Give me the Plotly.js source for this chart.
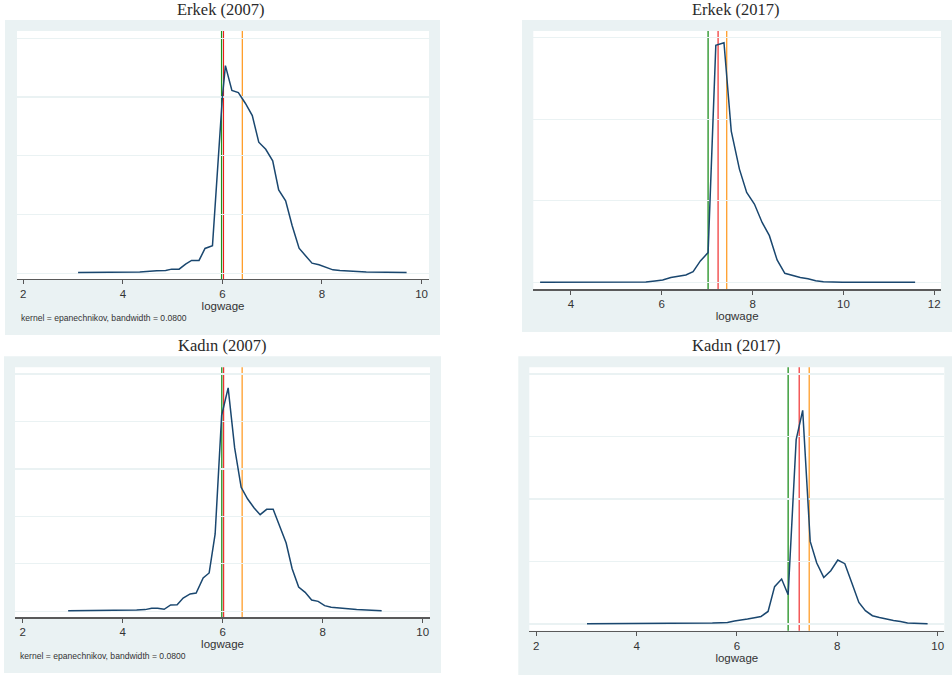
<!DOCTYPE html>
<html>
<head>
<meta charset="utf-8">
<script src="https://cdn.plot.ly/plotly-3.0.1.min.js"></script>
<style>html,body{margin:0;padding:0;background:#fff;}#chart{width:952px;height:676px;}</style>
</head>
<body>
<div id="chart"></div>
<script>
// ---- Data ----
const panelTitles = ["Erkek (2007)", "Erkek (2017)", "Kadın (2007)", "Kadın (2017)"];
const xAxisTitle = "logwage";
const noteText = "kernel = epanechnikov, bandwidth = 0.0800";

const erkek2007_x = [3.10, 3.50, 4.00, 4.34, 4.68, 4.86, 4.98, 5.13, 5.26, 5.38, 5.53, 5.65, 5.80, 5.92, 6.00, 6.06, 6.19, 6.32, 6.46, 6.60, 6.73, 6.87, 7.01, 7.13, 7.27, 7.40, 7.54, 7.67, 7.80, 7.94, 8.08, 8.22, 8.36, 8.63, 8.89, 9.30, 9.70];
const erkek2007_y = [0.006, 0.006, 0.007, 0.009, 0.020, 0.023, 0.034, 0.034, 0.077, 0.108, 0.108, 0.210, 0.233, 1.021, 1.504, 1.767, 1.555, 1.538, 1.447, 1.342, 1.115, 1.055, 0.956, 0.709, 0.616, 0.406, 0.213, 0.148, 0.085, 0.071, 0.048, 0.028, 0.023, 0.014, 0.009, 0.007, 0.006];

const erkek2017_x = [3.32, 4.00, 5.00, 5.65, 5.85, 6.02, 6.20, 6.37, 6.53, 6.69, 6.85, 7.02, 7.19, 7.37, 7.53, 7.71, 7.87, 8.04, 8.21, 8.37, 8.54, 8.71, 8.88, 9.05, 9.22, 9.39, 9.56, 9.98, 10.80, 11.58];
const erkek2017_y = [0.001, 0.001, 0.001, 0.002, 0.008, 0.014, 0.029, 0.037, 0.045, 0.065, 0.131, 0.182, 1.453, 1.469, 0.927, 0.694, 0.551, 0.480, 0.367, 0.286, 0.137, 0.055, 0.043, 0.029, 0.022, 0.010, 0.004, 0.001, 0.001, 0.001];

const kadin2007_x = [2.91, 3.40, 3.88, 4.28, 4.45, 4.58, 4.70, 4.83, 4.96, 5.09, 5.21, 5.35, 5.47, 5.61, 5.73, 5.85, 5.98, 6.11, 6.24, 6.37, 6.50, 6.63, 6.75, 6.88, 7.01, 7.14, 7.27, 7.39, 7.52, 7.65, 7.78, 7.91, 8.04, 8.17, 8.41, 8.68, 9.18];
const kadin2007_y = [0.007, 0.008, 0.011, 0.014, 0.018, 0.032, 0.032, 0.021, 0.067, 0.070, 0.140, 0.183, 0.193, 0.351, 0.404, 0.815, 2.065, 2.353, 1.721, 1.306, 1.183, 1.088, 1.018, 1.074, 1.074, 0.902, 0.720, 0.449, 0.256, 0.200, 0.119, 0.105, 0.060, 0.042, 0.028, 0.018, 0.007];

const kadin2017_x = [3.01, 3.80, 4.52, 4.78, 5.12, 5.25, 5.51, 5.68, 5.81, 5.95, 6.08, 6.21, 6.35, 6.48, 6.62, 6.75, 6.89, 7.02, 7.18, 7.31, 7.46, 7.59, 7.73, 7.87, 8.01, 8.15, 8.29, 8.43, 8.56, 8.70, 8.84, 8.97, 9.12, 9.26, 9.40, 9.80];
const kadin2017_y = [0.003, 0.003, 0.003, 0.005, 0.005, 0.008, 0.008, 0.011, 0.013, 0.024, 0.035, 0.040, 0.051, 0.061, 0.101, 0.299, 0.360, 0.235, 1.475, 1.709, 0.661, 0.488, 0.373, 0.427, 0.512, 0.483, 0.328, 0.173, 0.107, 0.067, 0.053, 0.040, 0.029, 0.021, 0.008, 0.003];

// Reference lines per panel: [green, red, orange]
const refLines = [
  [5.983, 6.022, 6.40],
  [7.02, 7.24, 7.43],
  [5.983, 6.020, 6.39],
  [7.02, 7.24, 7.44]
];
const refColors = ["#1f8f1f", "#ee1c1c", "#ff9e2a"];

const xTicks = [
  [2, 4, 6, 8, 10],
  [4, 6, 8, 10, 12],
  [2, 4, 6, 8, 10],
  [2, 4, 6, 8, 10]
];

// ---- Layout geometry ----
const W = 952, H = 676;
function px(x) { return x / W; }
function py(y) { return 1 - y / H; }

const panels = [
  {xs: erkek2007_x, ys: erkek2007_y, plot: [17, 31, 429, 279], box: [5, 20, 440, 335], xr: [1.873, 10.15], yr: [-0.05, 2.062], tx: 221, ty: 9.5, note: true, nx: 18.5, ny: 318},
  {xs: erkek2017_x, ys: erkek2017_y, plot: [533.3, 31, 941, 289.3], box: [522, 20, 952, 332], xr: [3.17, 12.15], yr: [-0.043, 1.541], tx: 735.5, ty: 9.5, note: false},
  {xs: kadin2007_x, ys: kadin2007_y, plot: [15, 367.3, 430, 617.3], box: [4, 356.3, 441, 673], xr: [1.847, 10.147], yr: [-0.063, 2.57], tx: 222, ty: 345.5, note: true, nx: 17.5, ny: 655.5},
  {xs: kadin2017_x, ys: kadin2017_y, plot: [529.3, 367.3, 944.3, 630.7], box: [518.3, 356.3, 952, 675], xr: [1.86, 10.133], yr: [-0.053, 2.053], tx: 736, ty: 345.5, note: false}
];

const traces = [];
const shapes = [];
const annotations = [];
const layout = {
  width: W, height: H,
  margin: {l: 0, r: 0, t: 0, b: 0},
  paper_bgcolor: "#ffffff",
  plot_bgcolor: "#ffffff",
  showlegend: false,
  font: {family: "Liberation Sans, Arial, sans-serif", color: "#333333", size: 11}
};

panels.forEach((p, i) => {
  const n = i + 1;
  const xa = n === 1 ? "xaxis" : "xaxis" + n;
  const ya = n === 1 ? "yaxis" : "yaxis" + n;
  const xref = n === 1 ? "x" : "x" + n;
  const yref = n === 1 ? "y" : "y" + n;

  // grey background box (Stata graph region)
  shapes.push({type: "rect", xref: "paper", yref: "paper", layer: "below",
    x0: px(p.box[0]), x1: px(p.box[2]), y0: py(p.box[3]), y1: py(p.box[1]),
    fillcolor: "#eaf2f3", line: {width: 0}});
  // white plot region
  shapes.push({type: "rect", xref: "paper", yref: "paper", layer: "below",
    x0: px(p.plot[0]), x1: px(p.plot[2]), y0: py(p.plot[3]), y1: py(p.plot[1]),
    fillcolor: "#ffffff", line: {width: 0}});

  layout[xa] = {
    domain: [px(p.plot[0]), px(p.plot[2])],
    anchor: yref,
    range: p.xr,
    tickvals: xTicks[i],
    ticktext: xTicks[i].map(String),
    ticks: "outside", ticklen: 4, tickwidth: 1, tickcolor: "#555555",
    showline: true, linecolor: "#5a5a5a", linewidth: 1.2,
    showgrid: false, zeroline: false,
    tickfont: {family: "Liberation Sans, Arial, sans-serif", size: 11.5, color: "#333333"},
    title: {text: xAxisTitle, standoff: 0, font: {family: "Liberation Sans, Arial, sans-serif", size: 11.5, color: "#333333"}},
    fixedrange: true
  };
  layout[ya] = {
    domain: [py(p.plot[3]), py(p.plot[1])],
    anchor: xref,
    range: p.yr,
    dtick: 0.5, tick0: 0,
    showticklabels: false, ticks: "",
    showgrid: true, gridcolor: "#eaf2f3", gridwidth: 1.2,
    zeroline: false, showline: false,
    fixedrange: true
  };

  traces.push({
    type: "scatter", mode: "lines",
    x: p.xs, y: p.ys,
    xaxis: xref, yaxis: yref,
    line: {color: "#1a476f", width: 1.5},
    hoverinfo: "skip"
  });

  refLines[i].forEach((v, k) => {
    shapes.push({type: "line", xref: xref, yref: yref + " domain", layer: "below",
      x0: v, x1: v, y0: 0, y1: 1,
      line: {color: refColors[k], width: k === 1 ? 1.1 : 1.3}});
  });

  annotations.push({xref: "paper", yref: "paper", x: px(p.tx), y: py(p.ty),
    xanchor: "center", yanchor: "middle", showarrow: false,
    text: panelTitles[i],
    font: {family: "Liberation Serif, Times New Roman, serif", size: 16.5, color: "#2a2a2a"}});

  if (p.note) {
    annotations.push({xref: "paper", yref: "paper", x: px(p.nx), y: py(p.ny),
      xanchor: "left", yanchor: "middle", showarrow: false,
      text: noteText,
      font: {family: "Liberation Sans, Arial, sans-serif", size: 8.6, color: "#333333"}});
  }
});

layout.shapes = shapes;
layout.annotations = annotations;

Plotly.newPlot("chart", traces, layout, {staticPlot: true, displayModeBar: false});
</script>
</body>
</html>
